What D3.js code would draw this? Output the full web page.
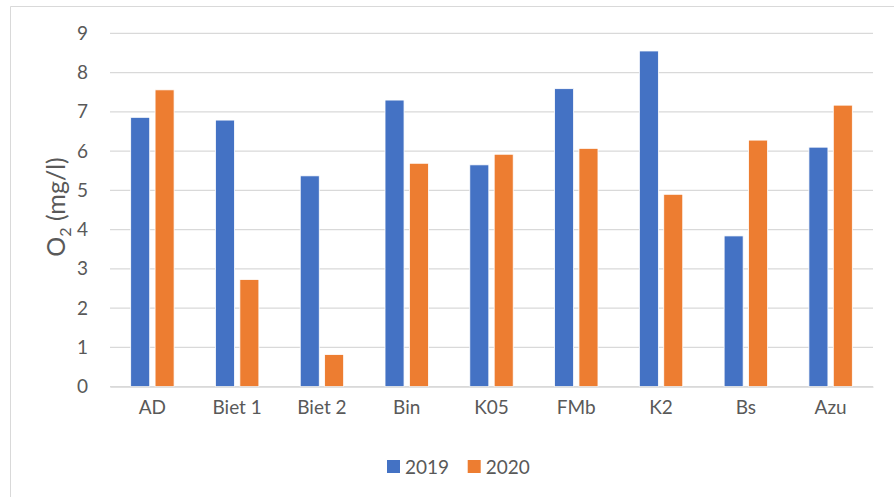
<!DOCTYPE html>
<html>
<head>
<meta charset="utf-8">
<script src="https://cdn.jsdelivr.net/npm/d3@7"></script>
<style>
  body { margin: 0; background: #fff; }
  text { font-family: Lato, "Open Sans", sans-serif; fill: #595959; }
</style>
</head>
<body>
<script>
const sites = ['AD', 'Biet 1', 'Biet 2', 'Bin', 'K05', 'FMb', 'K2', 'Bs', 'Azu'];
const series = ['2019', '2020'];
const values2019 = [6.86, 6.79, 5.37, 7.30, 5.65, 7.59, 8.55, 3.84, 6.10];
const values2020 = [7.56, 2.73, 0.82, 5.69, 5.92, 6.07, 4.90, 6.28, 7.17];
const yTicks = [0, 1, 2, 3, 4, 5, 6, 7, 8, 9];
const colors = ['#4472c4', '#ed7d31'];

const width = 894, height = 497;
const margin = {top: 33.3, bottom: 110.3, left: 110, right: 21};
const innerWidth = width - margin.left - margin.right;
const innerHeight = height - margin.top - margin.bottom;

const svg = d3.select('body').append('svg').attr('width', width).attr('height', height);

// chart border (only top and left edges show in the picture)
svg.append('line').attr('x1', 10.5).attr('x2', width).attr('y1', 6.5).attr('y2', 6.5)
   .attr('stroke', '#d9d9d9');
svg.append('line').attr('x1', 10.5).attr('x2', 10.5).attr('y1', 6.5).attr('y2', height)
   .attr('stroke', '#d9d9d9');

const grp = svg.append('g').attr('transform', `translate(${margin.left},${margin.top})`);

const x0 = d3.scaleBand().domain(sites).range([0, innerWidth]).padding(0);
const bw = x0.bandwidth();
const x1 = d3.scaleBand().domain(series).range([0.244 * bw, 0.756 * bw]).paddingInner(0.22);
const y = d3.scaleLinear().domain([0, 9]).range([innerHeight, 0]);

// gridlines
grp.append('g').selectAll('line').data(yTicks).join('line')
   .attr('x1', 0).attr('x2', innerWidth)
   .attr('y1', d => y(d)).attr('y2', d => y(d))
   .attr('stroke', '#d9d9d9').attr('stroke-width', 1.3);

// y tick labels
const yAxis = grp.append('g').call(d3.axisLeft(y).tickValues(yTicks).tickSize(0).tickPadding(22));
yAxis.select('.domain').remove();
yAxis.selectAll('text').attr('font-size', 19).attr('font-family', 'Lato, sans-serif').attr('fill', '#595959');

// bars
const rows = sites.map((s, i) => ({site: s, vals: [values2019[i], values2020[i]]}));
grp.selectAll('g.site').data(rows).join('g').attr('class', 'site')
   .attr('transform', d => `translate(${x0(d.site)},0)`)
   .selectAll('rect').data(d => d.vals.map((v, j) => ({key: series[j], v, j})))
   .join('rect')
   .attr('x', d => x1(d.key))
   .attr('y', d => y(d.v))
   .attr('width', x1.bandwidth())
   .attr('height', d => innerHeight - y(d.v))
   .attr('fill', d => colors[d.j])
   .attr('stroke', '#fff').attr('stroke-width', 0.8);

// x axis
const xAxis = grp.append('g').attr('transform', `translate(0,${innerHeight})`)
   .call(d3.axisBottom(x0).tickSize(0).tickPadding(14));
xAxis.select('.domain').attr('stroke', '#d9d9d9').attr('stroke-width', 1.3);
xAxis.selectAll('text').attr('font-size', 19).attr('font-family', 'Lato, sans-serif').attr('fill', '#595959');

// y axis title
const yt = svg.append('text')
   .attr('transform', `translate(65,207) rotate(-90)`)
   .attr('text-anchor', 'middle').attr('font-size', 25);
yt.append('tspan').text('O');
yt.append('tspan').text('2').attr('font-size', 16).attr('dy', 6);
yt.append('tspan').text(' (mg/l)').attr('dy', -6);

// legend
const legend = svg.append('g').attr('transform', 'translate(387,460)');
const items = legend.selectAll('g').data(series).join('g')
   .attr('transform', (d, i) => `translate(${i * 80.7},0)`);
items.append('rect').attr('width', 13).attr('height', 13).attr('fill', (d, i) => colors[i]);
items.append('text').attr('x', 18).attr('y', 13.5).attr('font-size', 19).text(d => d);
</script>
</body>
</html>
